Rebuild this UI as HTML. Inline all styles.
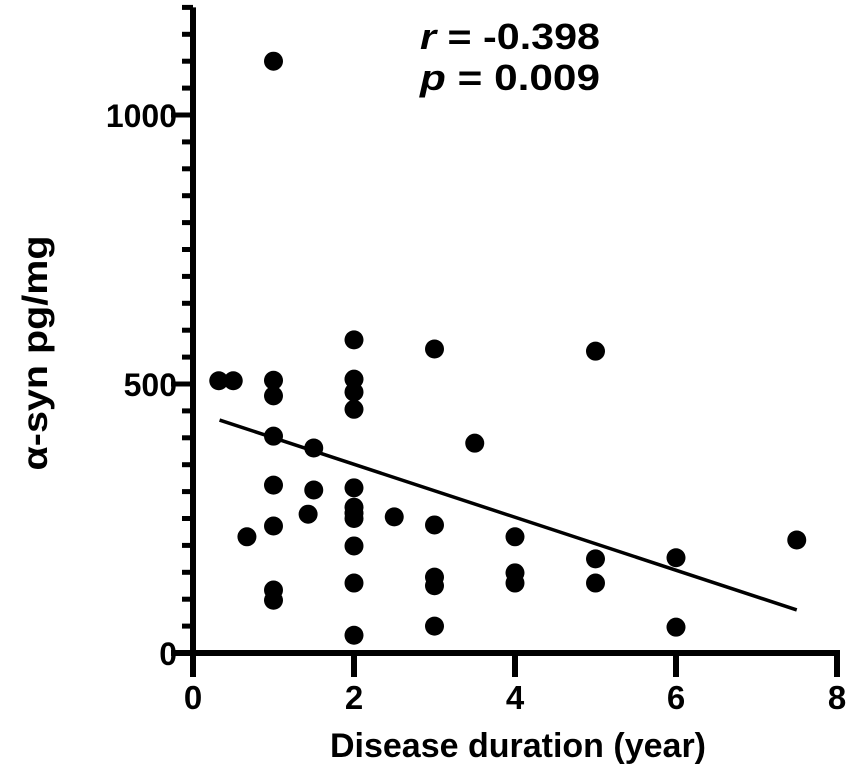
<!DOCTYPE html>
<html><head><meta charset="utf-8"><style>
html,body{margin:0;padding:0;background:#fff;}
svg{display:block;font-family:"Liberation Sans",Arial,sans-serif;font-weight:bold;}
</style></head><body>
<svg id="chart" width="851" height="771" viewBox="0 0 851 771">
<g id="axes"></g>
<g id="pts"></g>
<g id="fit"></g>
<text x="420" y="49" font-size="36" textLength="180" lengthAdjust="spacingAndGlyphs"><tspan font-style="italic">r</tspan> = -0.398</text>
<text x="420" y="90" font-size="36" textLength="180" lengthAdjust="spacingAndGlyphs"><tspan font-style="italic">p</tspan> = 0.009</text>
<text x="518" y="757" font-size="34" text-anchor="middle" textLength="376" lengthAdjust="spacingAndGlyphs">Disease duration (year)</text>
<text transform="translate(47,353) rotate(-90)" font-size="35" text-anchor="middle" textLength="235" lengthAdjust="spacingAndGlyphs">α-syn pg/mg</text>
</svg>
<script>
const xVals=[0.32,0.5,1,1,1,1,1,1,1,1,0.67,1.5,1.5,1.43,2,2,2,2,2,2,2,2,2,2,2,2.5,3,3,3,3,3,3.5,4,4,4,5,5,5,6,6,7.5];
const yVals=[506,506,1100,507,478,403,312,236,117,98,216,381,303,258,582,509,485,453,307,271,250,199,130,33,260,253,565,238,141,125,50,390,216,149,130,561,175,130,177,48,210];
const xTicks=[0,2,4,6,8];
const yTicks=[0,500,1000];
const fitStart=[0.33,433];
const fitEnd=[7.5,80];
const X0=193,XS=80.5,Y0=653,YS=0.538;
const sx=v=>X0+v*XS, sy=v=>Y0-v*YS;
const NS="http://www.w3.org/2000/svg";
function mk(tag,attrs,parent){const e=document.createElementNS(NS,tag);for(const k in attrs)e.setAttribute(k,attrs[k]);parent.appendChild(e);return e;}
const ax=document.getElementById('axes');
let l=mk('line',{x1:sx(0),y1:sy(1200),x2:sx(0),y2:Y0+3,stroke:'#000','stroke-width':6},ax);


l=mk('line',{x1:sx(0)-22,y1:Y0,x2:sx(8)+3,y2:Y0,stroke:'#000','stroke-width':6},ax);


for(let v=50;v<=1200;v+=50){
  const major=yTicks.includes(v);
  const t=mk('line',{x1:sx(0)-(major?22:11),y1:sy(v),x2:sx(0),y2:sy(v),stroke:'#000','stroke-width':5},ax);
  
  
}
yTicks.forEach(v=>{
  const t=mk('text',{x:sx(0)-16,y:sy(v)+12,'font-size':32,'text-anchor':'end'},ax);t.textContent=v;
  
  
});
xTicks.forEach(v=>{
  const t=mk('line',{x1:sx(v),y1:Y0,x2:sx(v),y2:Y0+24,stroke:'#000','stroke-width':6},ax);
  
  
  const s=mk('text',{x:sx(v),y:Y0+56,'font-size':33,'text-anchor':'middle'},ax);s.textContent=v;
  
  
});
const pg=document.getElementById('pts');
xVals.forEach((x,i)=>{
  const c=mk('circle',{cx:sx(x),cy:sy(yVals[i]),r:9.5,fill:'#000'},pg);
  
  
});
const f=mk('line',{x1:sx(fitStart[0]),y1:sy(fitStart[1]),x2:sx(fitEnd[0]),y2:sy(fitEnd[1]),stroke:'#000','stroke-width':3.5},document.getElementById('fit'));


</script>
</body></html>
